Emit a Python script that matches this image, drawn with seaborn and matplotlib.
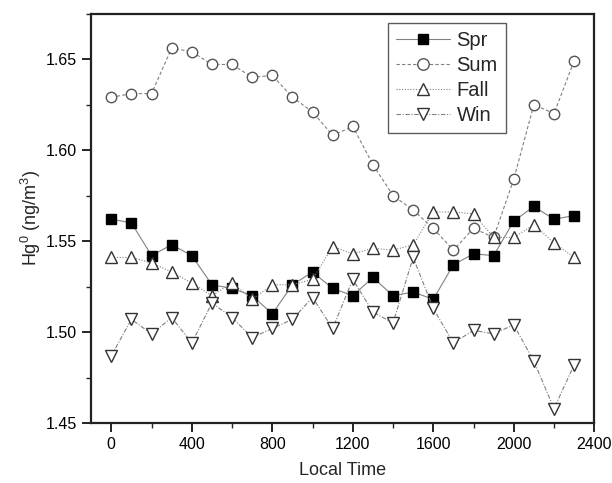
import numpy as np
import pandas as pd
import seaborn as sns
import matplotlib.pyplot as plt
from matplotlib.ticker import MultipleLocator

# hours of the day (local time)
local_time = [0, 100, 200, 300, 400, 500, 600, 700, 800, 900, 1000, 1100,
              1200, 1300, 1400, 1500, 1600, 1700, 1800, 1900, 2000, 2100, 2200, 2300]

spr = [1.562, 1.560, 1.542, 1.548, 1.542, 1.526, 1.524, 1.520, 1.510, 1.526, 1.533, 1.524,
       1.520, 1.530, 1.520, 1.522, 1.518, 1.537, 1.543, 1.542, 1.561, 1.569, 1.562, 1.564]
sum_ = [1.629, 1.631, 1.631, 1.656, 1.654, 1.647, 1.647, 1.640, 1.641, 1.629, 1.621, 1.608,
        1.613, 1.592, 1.575, 1.567, 1.557, 1.545, 1.557, 1.552, 1.584, 1.625, 1.620, 1.649]
fall = [1.541, 1.541, 1.538, 1.533, 1.527, 1.520, 1.527, 1.518, 1.526, 1.526, 1.529, 1.547,
        1.543, 1.546, 1.545, 1.548, 1.566, 1.566, 1.565, 1.552, 1.552, 1.559, 1.549, 1.541]
win = [1.487, 1.507, 1.499, 1.508, 1.494, 1.516, 1.508, 1.497, 1.502, 1.507, 1.519, 1.502,
       1.529, 1.511, 1.505, 1.541, 1.513, 1.494, 1.501, 1.499, 1.504, 1.484, 1.458, 1.482]

seasons = ['Spr', 'Sum', 'Fall', 'Win']

df = pd.DataFrame({'time': local_time, 'Spr': spr, 'Sum': sum_, 'Fall': fall, 'Win': win})

sns.set_style('ticks')
plt.rcParams['font.family'] = ['Liberation Sans', 'DejaVu Sans']
plt.rcParams['mathtext.fontset'] = 'custom'
plt.rcParams['mathtext.rm'] = 'Liberation Sans'

fig = plt.figure(figsize=(6.12, 4.83), dpi=100)
ax = fig.add_axes([0.149, 0.124, 0.822, 0.848])

styles = {
    'Spr': dict(ls='-', marker='s', mfc='black', mec='black', ms=6.5),
    'Sum': dict(ls=(0, (3, 2)), marker='o', mfc='white', mec='#555555', ms=7.5),
    'Fall': dict(ls=(0, (1, 1.5)), marker='^', mfc='white', mec='#333333', ms=8.5),
    'Win': dict(ls=(0, (4, 1.5, 1, 1.5)), marker='v', mfc='white', mec='#333333', ms=8.5),
}

for s in seasons:
    sns.lineplot(data=df, x='time', y=s, ax=ax, color='#808080', lw=0.8,
                 mew=1.0, label=s, **styles[s])

ax.set_xlim(-100, 2400)
ax.set_ylim(1.45, 1.675)
ax.xaxis.set_major_locator(MultipleLocator(400))
ax.xaxis.set_minor_locator(MultipleLocator(200))
ax.yaxis.set_major_locator(MultipleLocator(0.05))
ax.yaxis.set_minor_locator(MultipleLocator(0.025))
ax.yaxis.set_major_formatter(plt.FormatStrFormatter('%.2f'))

ax.tick_params(which='major', direction='out', length=6.5, width=1.2, labelsize=11.5, colors='black')
ax.tick_params(which='minor', direction='out', length=3.5, width=1.0)
for sp in ax.spines.values():
    sp.set_linewidth(1.6)
    sp.set_color('#222222')

ax.set_xlabel('Local Time', fontsize=13, labelpad=7)
ax.set_ylabel('Hg$^0$ (ng/m$^3$)', fontsize=13, labelpad=2)

leg = ax.legend(loc='upper left', bbox_to_anchor=(0.59, 0.978), fontsize=14.5,
                frameon=True, fancybox=False, handlelength=2.7, handletextpad=0.3,
                borderpad=0.4, labelspacing=0.3, borderaxespad=0, markerscale=1.1)
leg.get_frame().set_edgecolor('#333333')
leg.get_frame().set_linewidth(1.0)

fig.savefig('out.png', dpi=100)
